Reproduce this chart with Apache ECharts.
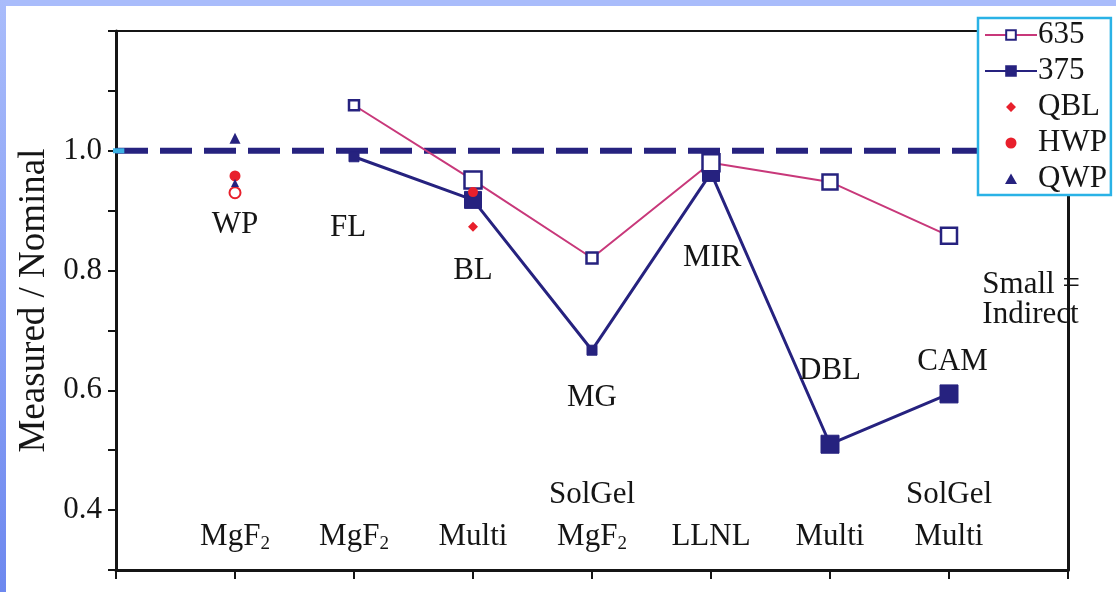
<!DOCTYPE html>
<html>
<head>
<meta charset="utf-8">
<title>Measured / Nominal</title>
<script src="https://cdn.jsdelivr.net/npm/echarts@6/dist/echarts.min.js"></script>
<style>
  html, body { margin: 0; padding: 0; }
  body { width: 1116px; height: 592px; position: relative; overflow: hidden; background: #fff; }
  .frame-top { position: absolute; left: 0; top: 0; width: 1116px; height: 6px; background: #a9bcfb; }
  .frame-left { position: absolute; left: 0; top: 0; width: 6px; height: 592px; background: linear-gradient(#a9bcfb, #6d88ef); }
  #chart { position: absolute; left: 0; top: 0; width: 1116px; height: 592px; }
</style>
</head>
<body>
<div class="frame-top"></div>
<div class="frame-left"></div>
<div id="chart"></div>
<script>
// Optic families along the x axis (positions 1..7)
const categories = ['WP', 'FL', 'BL', 'MG', 'MIR', 'DBL', 'CAM'];
const coatingTop = ['', '', '', 'SolGel', '', '', 'SolGel'];
const coatingBottom = ['MgF2', 'MgF2', 'Multi', 'MgF2', 'LLNL', 'Multi', 'Multi'];

// Measured / nominal ratio per family (null = not measured)
const ratio635 = [null, 1.076, 0.951, 0.821, 0.980, 0.948, 0.858];
const ratio375 = [null, 0.990, 0.918, 0.667, 0.963, 0.510, 0.594];

// Individual plate / lens results: [family, ratio]
const qblPoints = [['BL', 0.873]];
const hwpPoints = [['WP', 0.958], ['WP', 0.930], ['BL', 0.931]];
const qwpPoints = [['WP', 1.021], ['WP', 0.946]];

const yTickLabels = [0.4, 0.6, 0.8, 1.0];
const nominal = 1.0;

// Marker sizes (small = indirect measurement)
const size635 = [0, 10, 17, 11, 17, 15, 16];
const size375 = [0, 10, 17, 10, 17, 18, 18];
const sizeHwp = [11, 11, 10];
const sizeQwp = [11, 8];
const hollowHwp = [false, true, false];

// Where the annotation texts sit, in axis units
const familyTextAt = [[1, 0.876], [1.95, 0.871], [3, 0.800], [4, 0.587], [5.01, 0.821], [6, 0.632], [7.03, 0.647]];
const coatingTopY = 0.425;
const coatingBottomY = 0.355;
const noteAt = [7.28, 0.751];
const noteText = 'Small =\nIndirect';

const NAVY = '#26227f';
const CRIMSON = '#c8387a';
const RED = '#e8202c';
const INK = '#151515';
const SERIF = "'Liberation Serif', 'DejaVu Serif', serif";
const FS = 31;

// Legend glyphs: small symbol centred in the 52x12 legend slot (the empty
// corner sub-paths only fix the bounding box so the glyph is not stretched)
const SLOT = 'M0,0 L0,0 Z M52,12 L52,12 Z ';
const ICON_DIAMOND = 'path://' + SLOT + 'M26,1 L31,6 L26,11 L21,6 Z';
const ICON_CIRCLE = 'path://' + SLOT + 'M20.5,6 A5.5,5.5 0 1 1 31.5,6 A5.5,5.5 0 1 1 20.5,6 Z';
const ICON_TRIANGLE = 'path://' + SLOT + 'M26,0.5 L32,11 L20,11 Z';

const xOf = name => categories.indexOf(name) + 1;

const line635 = ratio635.map((v, i) => v == null ? null : { value: [i + 1, v], symbolSize: size635[i] }).filter(Boolean);
const line375 = ratio375.map((v, i) => v == null ? null : { value: [i + 1, v], symbolSize: size375[i] }).filter(Boolean);
const qblData = qblPoints.map(p => ({ value: [xOf(p[0]), p[1]], symbolSize: 10 }));
const hwpData = hwpPoints.map((p, i) => ({
  value: [xOf(p[0]), p[1]],
  symbolSize: sizeHwp[i],
  itemStyle: hollowHwp[i] ? { color: '#fff', borderColor: RED, borderWidth: 2 } : undefined
}));
const qwpData = qwpPoints.map((p, i) => ({ value: [xOf(p[0]), p[1]], symbolSize: sizeQwp[i] }));

const rich = { sub: { fontSize: 19, fontFamily: SERIF, color: INK, verticalAlign: 'bottom', padding: [14, 0, 0, 0] } };
const fmtCoating = s => s.replace(/F2$/, 'F{sub|2}');

const textData = [];
categories.forEach((c, i) => {
  textData.push({ value: [familyTextAt[i][0], familyTextAt[i][1]], label: { formatter: c } });
  textData.push({ value: [i + 1, coatingBottomY], label: { formatter: fmtCoating(coatingBottom[i]), rich } });
  if (coatingTop[i]) textData.push({ value: [i + 1, coatingTopY], label: { formatter: coatingTop[i] } });
});
textData.push({ value: noteAt, label: { formatter: noteText, lineHeight: 30, align: 'left' } });

const chart = echarts.init(document.getElementById('chart'), null, { renderer: 'canvas' });
chart.setOption({
  animation: false,
  backgroundColor: 'transparent',
  textStyle: { fontFamily: SERIF },
  grid: { left: 116, top: 31, width: 952, height: 539, containLabel: false },
  legend: {
    data: [
      { name: '635' },
      { name: '375' },
      { name: 'QBL', icon: ICON_DIAMOND },
      { name: 'HWP', icon: ICON_CIRCLE },
      { name: 'QWP', icon: ICON_TRIANGLE }
    ],
    orient: 'vertical',
    left: 978,
    top: 18,
    padding: [1, 4, 0, 6],
    itemGap: 4,
    itemWidth: 52,
    itemHeight: 12,
    backgroundColor: '#fff',
    borderColor: '#2ab2e6',
    borderWidth: 2.5,
    borderRadius: 0,
    textStyle: { fontFamily: SERIF, fontSize: FS, color: INK, lineHeight: 32, padding: [0, 0, 0, -4] },
    z: 10
  },
  xAxis: [
    {
      type: 'value', min: 0, max: 8, interval: 1, position: 'bottom',
      axisLine: { show: true, onZero: false, lineStyle: { color: INK, width: 3 } },
      axisTick: { show: true, inside: false, length: 9, lineStyle: { color: INK, width: 2 } },
      axisLabel: { show: false },
      splitLine: { show: false }
    },
    {
      type: 'value', min: 0, max: 8, position: 'top',
      axisLine: { show: true, onZero: false, lineStyle: { color: INK, width: 2 } },
      axisTick: { show: false }, axisLabel: { show: false }, splitLine: { show: false }
    }
  ],
  yAxis: [
    {
      type: 'value', min: 0.3, max: 1.2, interval: 0.1, position: 'left',
      name: 'Measured / Nominal',
      nameLocation: 'middle',
      nameGap: 61,
      nameTextStyle: { fontFamily: SERIF, fontSize: 37, color: INK },
      axisLine: { show: true, onZero: false, lineStyle: { color: INK, width: 3 } },
      axisTick: { show: true, inside: false, length: 8, lineStyle: { color: INK, width: 2 } },
      axisLabel: {
        margin: 14,
        fontFamily: SERIF, fontSize: FS, color: INK,
        formatter: v => {
          const r = Math.round(v * 10) / 10;
          return yTickLabels.some(t => Math.abs(t - r) < 1e-6) ? r.toFixed(1) : '';
        }
      },
      splitLine: { show: false }
    },
    {
      type: 'value', min: 0.3, max: 1.2, position: 'right',
      axisLine: { show: true, onZero: false, lineStyle: { color: INK, width: 3 } },
      axisTick: { show: false }, axisLabel: { show: false }, splitLine: { show: false }
    }
  ],
  series: [
    {
      name: 'nominal',
      type: 'line',
      data: [[0, nominal], [8, nominal]],
      symbol: 'none',
      lineStyle: { color: NAVY, width: 6, type: [32, 12] },
      silent: true,
      z: 1
    },
    {
      name: 'nominal-mark',
      type: 'line',
      data: [[-0.1, nominal], [0.07, nominal]],
      clip: false,
      symbol: 'none',
      lineStyle: { color: '#3cb2e4', width: 5 },
      silent: true,
      z: 3
    },
    {
      name: '375',
      type: 'line',
      data: line375,
      symbol: 'rect',
      lineStyle: { color: NAVY, width: 3 },
      itemStyle: { color: NAVY, borderColor: NAVY, borderWidth: 1 },
      z: 4
    },
    {
      name: '635',
      type: 'line',
      data: line635,
      symbol: 'rect',
      lineStyle: { color: CRIMSON, width: 2 },
      itemStyle: { color: '#fff', borderColor: NAVY, borderWidth: 2.5 },
      z: 5
    },
    {
      name: 'QBL', type: 'scatter', data: qblData, symbol: 'diamond',
      itemStyle: { color: RED, opacity: 1 }, z: 6
    },
    {
      name: 'HWP', type: 'scatter', data: hwpData, symbol: 'circle',
      itemStyle: { color: RED, opacity: 1 }, z: 6
    },
    {
      name: 'QWP', type: 'scatter', data: qwpData, symbol: 'triangle',
      itemStyle: { color: NAVY, opacity: 1 }, z: 7
    },
    {
      name: 'annotations',
      type: 'scatter',
      data: textData,
      symbolSize: 0.01,
      silent: true,
      itemStyle: { opacity: 1 },
      label: {
        show: true, position: 'inside',
        fontFamily: SERIF, fontSize: FS, color: INK
      },
      z: 8
    }
  ]
});
</script>
</body>
</html>
